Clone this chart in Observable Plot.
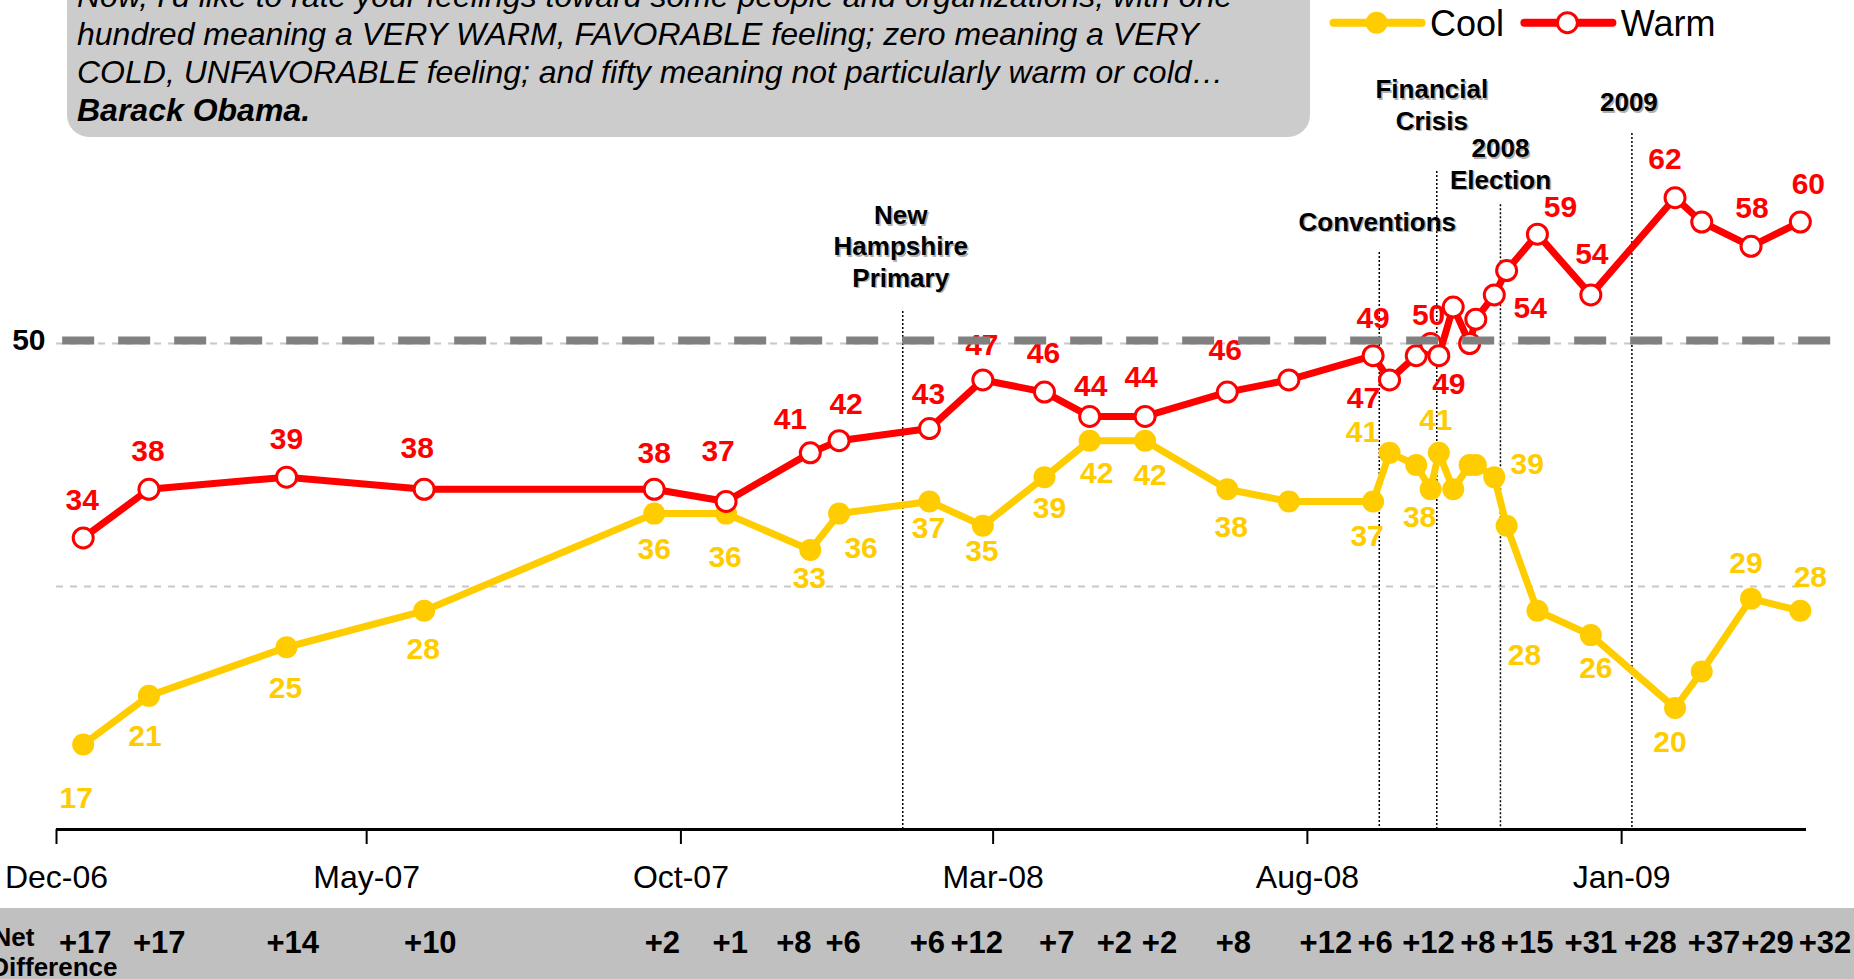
<!DOCTYPE html>
<html>
<head>
<meta charset="utf-8">
<script src="https://cdn.jsdelivr.net/npm/d3@7"></script>
<script src="https://cdn.jsdelivr.net/npm/@observablehq/plot@0.6"></script>
<style>
html, body { margin: 0; padding: 0; background: #fff; overflow: hidden; }
#wrap { position: relative; width: 1854px; height: 979px; overflow: hidden; font-family: "Liberation Sans", Arial, sans-serif; }
#band { position: absolute; left: 0; top: 908px; width: 1854px; height: 71px; background: #c0c0c0; }
#chart { position: absolute; left: 0; top: 0; }
#titlebox { position: absolute; left: 67px; top: -60px; width: 1243px; height: 197px; background: #cccccc; border-radius: 22px; }
#titletext { position: absolute; left: 77px; top: -23.4px; font-size: 32px; line-height: 38px; font-style: italic; color: #000; white-space: nowrap; }
#titletext b { font-weight: bold; }
#legend { position: absolute; left: 1320px; top: 0; overflow: visible; }
</style>
</head>
<body>
<div id="wrap">
  <div id="band"></div>
  <div id="chart"></div>
  <div id="titlebox"></div>
  <div id="titletext"></div>
  <svg id="legend" width="520" height="60"></svg>
</div>
<script>
// ---- data ----
const surveyDates = ["2006-12-14","2007-01-15","2007-03-23","2007-05-29","2007-09-18","2007-10-23","2007-12-03","2007-12-17","2008-01-30","2008-02-25","2008-03-26","2008-04-17","2008-05-14","2008-06-23","2008-07-23","2008-09-02","2008-09-10","2008-09-23","2008-09-30","2008-10-04","2008-10-11","2008-10-19","2008-10-22","2008-10-31","2008-11-06","2008-11-21","2008-12-17","2009-01-27","2009-02-09","2009-03-05","2009-03-29"];
const warm = [34,38,39,38,38,37,41,42,43,47,46,44,44,46,47,49,47,49,50,49,53,50,52,54,56,59,54,62,60,58,60];
const cool = [17,21,25,28,36,36,33,36,37,35,39,42,42,38,37,37,41,40,38,41,38,40,40,39,35,28,26,20,23,29,28];

// which points carry a value label, and where (offsets in px; null = no label)
const warmLabelDx = [-1,-1,0,-7,0,-8,-20,7,-1,-1,-1,1,-4,-2,null,0,-26,null,-2,10,null,null,null,36,null,23,1,-10,null,1,8];
const warmLabelDy = [-38,-38,-38,-41,-36,-50,-33,-36,-34,-35,-39,-30,-39,-42,null,-37,18,null,-28,29,null,null,null,13,null,-27,-41,-38,null,-38,-38];
const coolLabelDx = [-7,-4,-1,-1,0,-1,-1,22,-1,-1,5,7,5,4,null,-6,-27,null,-11,-3,null,null,null,33,null,-13,5,-5,null,-5,10];
const coolLabelDy = [54,41,41,39,36,44,28,35,27,26,31,33,35,38,null,35,-20,null,28,-32,null,null,null,-13,null,45,33,34,null,-35,-33];

const eventNames = ["New\nHampshire\nPrimary","Conventions","Financial\nCrisis","2008\nElection","2009"];
const eventDates = ["2008-01-17","2008-09-05","2008-10-03","2008-11-03","2009-01-06"];
const eventLineTop = [52.63,57.49,64.16,61.41,67.28];
const eventLabelY = [58.07,60.12,69.71,64.86,69.92];
const eventLabelDx = [-2,-2,-5,0,-3];

const netLabels = ["+17","+17","+14","+10","+2","+1","+8","+6","+6","+12","+7","+2","+2","+8","+12","+6","+12","+8","+15","+31","+28","+37","+29","+32"];
const netDates = ["2006-12-15","2007-01-20","2007-03-26","2007-06-01","2007-09-22","2007-10-25","2007-11-25","2007-12-19","2008-01-29","2008-02-22","2008-04-01","2008-04-29","2008-05-21","2008-06-26","2008-08-10","2008-09-03","2008-09-29","2008-10-23","2008-11-16","2008-12-17","2009-01-15","2009-02-15","2009-03-13","2009-04-10"];

const tickDates = ["2006-12-01","2007-05-01","2007-10-01","2008-03-01","2008-08-01","2009-01-01"];
const xDomain = ["2006-12-01","2009-04-01"];
const yDomain = [10, 70];
const gridValues = [30, 50];
const refValue = 50;
const refSpan = ["2006-12-04","2009-04-13"];

const seriesNames = ["Cool","Warm"];
const titleLines = [
  "Now, I'd like to rate your feelings toward some people and organizations, with one",
  "hundred meaning a VERY WARM, FAVORABLE feeling; zero meaning a VERY",
  "COLD, UNFAVORABLE feeling; and fifty meaning not particularly warm or cold\u2026"
];
const titleSubject = "Barack Obama.";

// ---- styles ----
const RED = "#ff0000", YEL = "#ffcc00";
const FONT = "Liberation Sans, Arial, sans-serif";

const parse = d3.utcParse("%Y-%m-%d");
const rows = surveyDates.map((d, i) => ({date: parse(d), warm: warm[i], cool: cool[i]}));
const events = eventNames.map((n, i) => ({name: n, date: parse(eventDates[i]), top: eventLineTop[i], ly: eventLabelY[i], bottom: yDomain[0]}));

const labelMarks = [];
rows.forEach((r, i) => {
  if (coolLabelDy[i] != null) labelMarks.push(Plot.text([r], {x: "date", y: "cool", text: d => String(d.cool), dx: coolLabelDx[i], dy: coolLabelDy[i], fill: YEL, fontSize: 30, fontWeight: "bold"}));
  if (warmLabelDy[i] != null) labelMarks.push(Plot.text([r], {x: "date", y: "warm", text: d => String(d.warm), dx: warmLabelDx[i], dy: warmLabelDy[i], fill: RED, fontSize: 30, fontWeight: "bold"}));
});

const eventTextMarks = [];
events.forEach((e, i) => {
  eventTextMarks.push(Plot.text([e], {x: "date", y: "ly", text: "name", dx: eventLabelDx[i] + 1.5, dy: 1.5, fill: "#b0b0b0", fontSize: 26, fontWeight: "bold", lineHeight: 1.2}));
  eventTextMarks.push(Plot.text([e], {x: "date", y: "ly", text: "name", dx: eventLabelDx[i], fill: "#000", fontSize: 26, fontWeight: "bold", lineHeight: 1.2}));
});

const chart = Plot.plot({
  width: 1854,
  height: 979,
  marginTop: 100,
  marginBottom: 150,
  marginLeft: 56,
  marginRight: 48,
  style: {background: "transparent", fontFamily: FONT, overflow: "visible"},
  x: {type: "utc", domain: xDomain.map(parse)},
  y: {domain: yDomain},
  marks: [
    Plot.ruleY(gridValues, {stroke: "#c8c8c8", strokeWidth: 2, strokeDasharray: "7,7"}),
    Plot.ruleX(events, {x: "date", y1: "top", y2: "bottom", stroke: "#000", strokeWidth: 1.5, strokeDasharray: "2,2"}),
    Plot.line(rows, {x: "date", y: "cool", stroke: YEL, strokeWidth: 7, strokeLinejoin: "round"}),
    Plot.dot(rows, {x: "date", y: "cool", r: 11, fill: YEL, stroke: "none"}),
    Plot.line(rows, {x: "date", y: "warm", stroke: RED, strokeWidth: 7, strokeLinejoin: "round"}),
    Plot.dot(rows, {x: "date", y: "warm", r: 10, fill: "#fff", stroke: RED, strokeWidth: 3}),
    ...labelMarks,
    Plot.ruleY([{y: refValue, a: parse(refSpan[0]), b: parse(refSpan[1])}], {y: "y", x1: "a", x2: "b", stroke: "#808080", strokeWidth: 8, strokeDasharray: "32,24", dy: -3}),
    ...eventTextMarks,
    Plot.ruleY([yDomain[0]], {stroke: "#000", strokeWidth: 3}),
    Plot.axisX(tickDates.map(parse), {tickFormat: d3.utcFormat("%b-%y"), tickSize: 15, tickPadding: 21, fontSize: 32, stroke: "#000", strokeWidth: 2, fill: "#000", label: null}),
    Plot.axisY([refValue], {tickSize: 0, tickPadding: 11, fontSize: 30, fontWeight: "bold", fill: "#000", label: null, dy: -3}),
    Plot.text(netLabels, {x: netDates.map(parse), text: d => d, frameAnchor: "bottom", lineAnchor: "middle", dy: 114, fontSize: 31, fontWeight: "bold", fill: "#000"}),
    Plot.text(["Net"], {frameAnchor: "bottom-left", lineAnchor: "middle", dx: -22, dy: 108, textAnchor: "end", fontSize: 26, fontWeight: "bold", fill: "#000"}),
    Plot.text(["Difference"], {frameAnchor: "bottom-left", lineAnchor: "middle", dx: 61, dy: 138, textAnchor: "end", fontSize: 26, fontWeight: "bold", fill: "#000"})
  ]
});
document.getElementById("chart").appendChild(chart);

// ---- title box text ----
const tt = document.getElementById("titletext");
tt.innerHTML = titleLines.map(l => l.replace(/&/g, "&amp;").replace(/</g, "&lt;")).join("<br>") + "<br><b>" + titleSubject + "</b>";

// ---- legend ----
const lg = d3.select("#legend");
const legendItems = [
  {name: seriesNames[0], color: YEL, x0: 13.6, filled: true, tx: 110},
  {name: seriesNames[1], color: RED, x0: 204.4, filled: false, tx: 300.8}
];
legendItems.forEach(it => {
  lg.append("line").attr("x1", it.x0).attr("x2", it.x0 + 88).attr("y1", 22.7).attr("y2", 22.7)
    .attr("stroke", it.color).attr("stroke-width", 8).attr("stroke-linecap", "round");
  lg.append("circle").attr("cx", it.x0 + 43).attr("cy", 22.7).attr("r", it.filled ? 11 : 10)
    .attr("fill", it.filled ? it.color : "#fff").attr("stroke", it.filled ? "none" : it.color).attr("stroke-width", 3);
  lg.append("text").attr("x", it.tx).attr("y", 36).attr("font-size", 36).attr("font-family", FONT).attr("fill", "#000").text(it.name);
});
</script>
</body>
</html>
